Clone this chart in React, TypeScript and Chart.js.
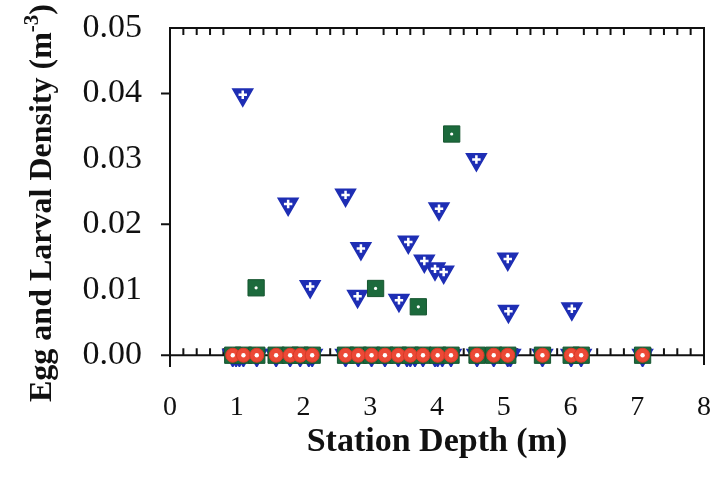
import React, { useEffect, useRef } from 'react';
import { Chart, registerables } from 'chart.js';

Chart.register(...registerables);

// Station depths (m) where all densities are zero (red circles / green squares at 0)
const zeroStations = [0.94, 1.1, 1.3, 1.59, 1.8, 1.95, 2.13, 2.63, 2.82, 3.02, 3.22, 3.42, 3.6, 3.79, 4.01, 4.21, 4.6, 4.85, 5.06, 5.58, 6.01, 6.16, 7.08];
// Extra stations where the triangle series is zero (tips visible under the squares)
const triangleZeroExtra = [0.99, 1.04, 2.08, 3.55, 3.67, 3.97, 4.08, 5.1];

// Blue inverted triangles (non-zero values)
const triangleDepths = [1.09, 1.77, 2.1, 2.63, 2.86, 2.81, 3.43, 3.57, 3.81, 3.97, 4.1, 4.03, 4.59, 5.06, 5.07, 6.02];
const triangleDensity = [0.0398, 0.0231, 0.0105, 0.0245, 0.0163, 0.009, 0.0084, 0.0173, 0.0144, 0.0132, 0.0127, 0.0224, 0.0299, 0.0147, 0.0067, 0.0071];

// Green squares (non-zero values)
const squareDepths = [1.29, 3.08, 3.72, 4.22];
const squareDensity = [0.0103, 0.0102, 0.0074, 0.0338];

const xTickValues = [0, 1, 2, 3, 4, 5, 6, 7, 8];
const yTickValues = [0, 0.01, 0.02, 0.03, 0.04, 0.05];
const yTickMarks = [0, 0.02, 0.04];

const xTitle = 'Station Depth (m)';
const yTitleMain = 'Egg and Larval Density (m';
const yTitleSup = '-3';

const SERIF = '"Liberation Serif", "Times New Roman", serif';

const framePlugin = {
  id: 'frame',
  beforeDatasetsDraw(chart: any) {
    const ctx = chart.ctx;
    const { left, right, top, bottom } = chart.chartArea;
    const xs = chart.scales.x;
    const ys = chart.scales.y;
    const y0 = ys.getPixelForValue(0);
    ctx.save();
    ctx.strokeStyle = '#111';
    ctx.lineWidth = 2;
    ctx.beginPath();
    ctx.moveTo(left, bottom);
    ctx.lineTo(left, top);
    ctx.lineTo(right, top);
    ctx.lineTo(right, bottom - 2);
    ctx.moveTo(left - 8, y0);
    ctx.lineTo(right, y0);
    yTickMarks.forEach((v) => {
      const p = ys.getPixelForValue(v);
      ctx.moveTo(left - 9, p);
      ctx.lineTo(left, p);
    });
    for (let i = 0; i < 8; i++) {
      for (let k = 1; k <= 4; k++) {
        const p = xs.getPixelForValue(i + k * 0.2);
        ctx.moveTo(p, top);
        ctx.lineTo(p, top + 7);
        ctx.moveTo(p, y0);
        ctx.lineTo(p, y0 - 7);
      }
    }
    ctx.stroke();
    ctx.restore();
  },
  afterDraw(chart: any) {
    const ctx = chart.ctx;
    const { left, right } = chart.chartArea;
    ctx.save();
    ctx.fillStyle = '#111';
    ctx.textBaseline = 'alphabetic';
    ctx.textAlign = 'center';
    ctx.font = `bold 34px ${SERIF}`;
    ctx.fillText(xTitle, (left + right) / 2, 451);

    const mainFont = `bold 32px ${SERIF}`;
    const supFont = `bold 21px ${SERIF}`;
    ctx.font = mainFont;
    const w1 = ctx.measureText(yTitleMain).width;
    const w3 = ctx.measureText(')').width;
    ctx.font = supFont;
    const w2 = ctx.measureText(yTitleSup).width;
    const W = w1 + w2 + w3;
    ctx.translate(51, 203);
    ctx.rotate(-Math.PI / 2);
    ctx.textAlign = 'left';
    ctx.font = mainFont;
    ctx.fillText(yTitleMain, -W / 2, 0);
    ctx.font = supFont;
    ctx.fillText(yTitleSup, -W / 2 + w1, -13);
    ctx.font = mainFont;
    ctx.fillText(')', -W / 2 + w1 + w2, 0);
    ctx.restore();
  },
};

const noScalePadding = (s: any) => {
  s.paddingTop = 0;
  s.paddingBottom = 0;
  s.paddingLeft = 0;
  s.paddingRight = 0;
};

export default function App() {
  const ref = useRef<HTMLCanvasElement | null>(null);

  useEffect(() => {
    if (!ref.current) return;
    const zeroPts = zeroStations.map((x) => ({ x, y: 0 }));
    const triPts = [
      ...zeroStations.map((x) => ({ x, y: 0 })),
      ...triangleZeroExtra.map((x) => ({ x, y: 0 })),
      ...triangleDepths.map((x, i) => ({ x, y: triangleDensity[i] })),
    ];
    const sqPts = [
      ...zeroStations.map((x) => ({ x, y: 0 })),
      ...squareDepths.map((x, i) => ({ x, y: squareDensity[i] })),
    ];
    const blue = '#1e2eb4';
    const green = '#1c6a3c';
    const red = '#ec4936';

    const chart = new Chart(ref.current, {
      type: 'scatter',
      data: {
        datasets: [
          { label: 'circleDot', data: zeroPts, order: 0, pointStyle: 'circle', pointRadius: 2.2, pointBackgroundColor: '#fff', pointBorderWidth: 0, pointBorderColor: '#fff' },
          { label: 'circle', data: zeroPts, order: 1, pointStyle: 'circle', pointRadius: 7, pointBackgroundColor: red, pointBorderColor: '#d83a28', pointBorderWidth: 1 },
          { label: 'squareDot', data: sqPts, order: 2, pointStyle: 'circle', pointRadius: 1.6, pointBackgroundColor: '#fff', pointBorderWidth: 0, pointBorderColor: '#fff' },
          { label: 'square', data: sqPts, order: 3, pointStyle: 'rect', pointRadius: 11.5, pointBackgroundColor: green, pointBorderColor: '#15552f', pointBorderWidth: 1 },
          { label: 'plus', data: triPts, order: 4, pointStyle: 'cross', pointRadius: 4.2, pointBorderColor: '#fff', pointBorderWidth: 2.5 },
          { label: 'triangle', data: triPts, order: 5, pointStyle: 'triangle', pointRotation: 180, pointRadius: 11, pointBackgroundColor: blue, pointBorderColor: blue, pointBorderWidth: 2 },
        ] as any,
      },
      options: {
        animation: false,
        responsive: false,
        events: [],
        layout: { padding: { top: 28, right: 9, left: 0, bottom: 0 } },
        plugins: { legend: { display: false }, tooltip: { enabled: false } },
        scales: {
          x: {
            type: 'linear',
            min: 0,
            max: 8,
            afterBuildTicks: (s: any) => { s.ticks = xTickValues.map((v) => ({ value: v })); },
            afterFit: (s: any) => { s.height = 117; noScalePadding(s); },
            ticks: { font: { family: SERIF, size: 28 }, color: '#111', padding: 16, maxRotation: 0, autoSkip: false, callback: (v: any) => String(v) },
            grid: { display: false },
            border: { display: false },
          },
          y: {
            type: 'linear',
            min: -0.0018,
            max: 0.05,
            afterBuildTicks: (s: any) => { s.ticks = yTickValues.map((v) => ({ value: v })); },
            afterFit: (s: any) => { s.width = 170; noScalePadding(s); },
            ticks: { font: { family: SERIF, size: 34 }, color: '#111', padding: 20, autoSkip: false, callback: (v: any) => Number(v).toFixed(2) },
            grid: { display: false },
            border: { display: false },
          },
        },
      } as any,
      plugins: [framePlugin],
    });
    return () => chart.destroy();
  }, []);

  return (
    <div style={{ position: 'fixed', left: 0, top: 0, width: 717, height: 484, background: '#fff' }}>
      <canvas ref={ref} width={717} height={484} style={{ display: 'block' }} />
    </div>
  );
}
